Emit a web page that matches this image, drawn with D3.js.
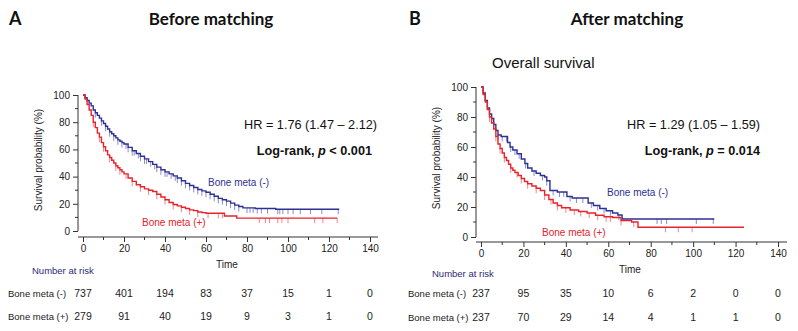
<!DOCTYPE html>
<html>
<head>
<meta charset="utf-8">
<script src="https://cdn.jsdelivr.net/npm/d3@7"></script>
<style>
  body { margin: 0; background: #fff; }
  svg { display: block; font-family: "Liberation Sans", Arial, sans-serif; }
</style>
</head>
<body>
<svg id="chart" width="798" height="331"></svg>
<script>
// time axis and risk table columns
var timeTicks = [0, 20, 40, 60, 80, 100, 120, 140];
var survTicks = [0, 20, 40, 60, 80, 100];

// Panel A - before matching  [time, survival %]
var aNeg = [[0,100],[1,98],[2,96],[3,94],[4,92],[5,89],[6,87],[7,85],[8,83],[9,81],[10,79],[11,77],[12,75],[13,73],
  [14,71.5],[15,70],[16,68.5],[17,67],[18,66],[19,65],[20,64],[22,61.5],[24,59],[26,57],[28,55],[30,53],[32,51],
  [34,49],[36,47],[38,45],[40,43.5],[42,42],[44,40.5],[46,39],[48,37],[50,35],[52,33.5],[54,32],[56,30.5],[58,29.5],
  [60,28.5],[62,27],[64,25.5],[66,24],[68,23],[70,22],[72,20.5],[74,19],[76,18],[78,17],[84,16.5],[94,16]];
var aNegEnd = 125;
var aNegCens = [6,9,11,13,15,17,19,21,22,24,25,27,28,30,31,33,35,36,38,40,41,43,45,46,48,50,52,54,56,58,60,62,64,
  66,68,70,72,74,76,80,81.5,83,85,87,90,95,96,97.5,100,102.5,106,111,116.5,124.5];
var aPos = [[0,100],[1,97],[2,93],[3,89],[4,85],[5,80],[6,76],[7,72],[8,69],[9,65],[10,62],[11,59],[12,56],[13,54],
  [14,52],[15,50],[16,48],[17,46.5],[18,45],[19,43.5],[20,42],[22,39],[24,36.5],[26,34],[28,32.5],[30,31],[32,30],
  [34,29],[36,27],[38,25],[40,23],[42,21],[44,19.5],[46,18.5],[48,17.5],[50,16.5],[52,15.5],[54,15],[56,14],[58,13.5],
  [60,13],[69,11],[75,9.5]];
var aPosEnd = 124;
var aPosCens = [5,8,10,13,16,18,21,24,28,32,36,40,44,48,52,56,61,66,68,86,89,91,95,97,100,113,117,124];

// Panel B - after matching
var bNeg = [[0,100],[1,96],[2,91],[3,86],[4,82],[5,79],[6,75],[7,71],[8,68],[9.5,67],[12.5,63],[13.7,60],[15,58],
  [17,55.5],[19,52],[20.7,49],[22,46],[24,44],[26,42.5],[28,41],[30,40],[31,37.5],[32.5,31],[36,30],[40.5,27],[43,26],
  [50.5,22.7],[53,21],[56,19],[59,17.5],[62,16],[64.5,14.7],[66.5,12]];
var bNegEnd = 110;
var bNegCens = [5,8,10,12,14,16,18,21,25,29,31,34,37,39,42,45,48,52,55,58,61,65,83,85,87.5,101.5,109.5];
var bPos = [[0,100],[1,95],[2,90],[3,85],[4,80],[5,76],[6,72],[7,67],[8,62],[9,59],[10,56],[11,53],[12,51],
  [13,48.5],[14,46],[15,44.5],[16,43],[17.5,41],[19,39],[20.5,37],[22,35.5],[24,34],[26,32.5],[28,31],[30,28],
  [32,25],[34,22.7],[36,21],[38,19.5],[42,18],[46,17],[50,16],[54,14.5],[58,13.5],[62,13],[66,11],[71,10],[74,6.5]];
var bPosEnd = 124;
var bPosCens = [4,7,9,11,14,17,19,22,26,30,33,36,40,44,47,51,55,59,61,66,72,87,93,99.5];

var negRisk = { A: [737, 401, 194, 83, 37, 15, 1, 0], B: [237, 95, 35, 10, 6, 2, 0, 0] };
var posRisk = { A: [279, 91, 40, 19, 9, 3, 1, 0], B: [237, 70, 29, 14, 4, 1, 1, 0] };

var blue = "#2e3192", red = "#e8232a";
var svg = d3.select("#chart");

function survAt(data, t) {
  var s = data[0][1];
  data.forEach(function (d) { if (d[0] <= t) s = d[1]; });
  return s;
}

function panel(opt) {
  var g = svg.append("g");
  var x = d3.scaleLinear().domain([0, 140]).range(opt.xr);
  var y = d3.scaleLinear().domain([0, 100]).range(opt.yr);

  // y axis
  var yAxis = d3.axisLeft(y).tickValues(survTicks).tickSize(5).tickPadding(3);
  var ya = g.append("g").attr("transform", "translate(" + opt.yAxisX + ",0)").call(yAxis);
  ya.selectAll(".tick").filter(function (d) { return false; });
  ya.append("g").selectAll("line").data(d3.range(10, 100, 20)).join("line")
    .attr("x1", -3).attr("x2", 0).attr("y1", function (d) { return y(d); }).attr("y2", function (d) { return y(d); })
    .attr("stroke", "#333");

  // x axis
  var xAxis = d3.axisBottom(x).tickValues(timeTicks).tickSize(5).tickPadding(3);
  var xa = g.append("g").attr("transform", "translate(0," + opt.xAxisY + ")").call(xAxis);
  xa.select(".domain").attr("d", "M" + opt.yAxisX + ",0H" + opt.xEnd);
  xa.append("g").selectAll("line").data(d3.range(10, 140, 10).filter(function (d) { return d % 20; })).join("line")
    .attr("x1", function (d) { return x(d); }).attr("x2", function (d) { return x(d); })
    .attr("y1", 0).attr("y2", 3).attr("stroke", "#333");
  ya.select(".domain").attr("d", "M0," + y(0) + "V" + y(100));
  [ya, xa].forEach(function (a) {
    a.selectAll("text").attr("font-size", 10).attr("fill", "#222").attr("font-family", "Liberation Sans, Arial");
    a.selectAll("path, line").attr("stroke", "#333");
  });

  g.append("text").attr("transform", "translate(" + opt.yLabX + "," + opt.yLabY + ") rotate(-90)")
    .attr("text-anchor", "middle").attr("font-size", 10).attr("fill", "#222").text("Survival probability (%)");
  g.append("text").attr("x", opt.timeX).attr("y", opt.timeY).attr("text-anchor", "middle")
    .attr("font-size", 10).attr("fill", "#222").text("Time");

  var line = d3.line().x(function (d) { return x(d[0]); }).y(function (d) { return y(d[1]); }).curve(d3.curveStepAfter);
  opt.series.forEach(function (s) {
    var pts = s.data.concat([[s.end, s.data[s.data.length - 1][1]]]);
    g.selectAll(null).data(s.cens).join("line")
      .attr("x1", function (t) { return x(t); }).attr("x2", function (t) { return x(t); })
      .attr("y1", function (t) { return y(survAt(s.data, t)); })
      .attr("y2", function (t) { return y(survAt(s.data, t)) + 5; })
      .attr("stroke", s.color).attr("stroke-opacity", 0.55).attr("stroke-width", 1);
    g.append("path").datum(pts).attr("d", line).attr("fill", "none")
      .attr("stroke", s.color).attr("stroke-width", 1.4);
    g.append("text").attr("x", s.lx).attr("y", s.ly).attr("font-size", 10).attr("fill", s.color).text(s.label);
  });

  // HR + log-rank
  g.append("text").attr("x", opt.statX).attr("y", opt.hrY).attr("text-anchor", "end")
    .attr("font-size", 12.7).attr("fill", "#111").text(opt.hr);
  var lr = g.append("text").attr("x", opt.statX - opt.lrShift).attr("y", opt.hrY + 26).attr("text-anchor", "end")
    .attr("font-size", 12.7).attr("font-weight", "bold").attr("fill", "#111");
  lr.append("tspan").text("Log-rank, ");
  lr.append("tspan").attr("font-style", "italic").text("p");
  lr.append("tspan").text(" " + opt.p);

  // titles
  g.append("text").attr("x", opt.letterX).attr("y", 25).attr("font-family", "Lato, sans-serif")
    .attr("font-weight", "bold").attr("font-size", 18).attr("fill", "#111").text(opt.letter);
  g.append("text").attr("x", opt.titleX).attr("y", 25).attr("text-anchor", "middle").attr("font-family", "Lato, sans-serif")
    .attr("font-weight", "bold").attr("font-size", 17).attr("fill", "#111").text(opt.title);

  // number at risk
  g.append("text").attr("x", opt.narX).attr("y", opt.narY).attr("font-size", 9.5).attr("fill", "#2a2a7a").text("Number at risk");
  [["Bone meta (-)", negRisk[opt.letter], opt.rowY[0]], ["Bone meta (+)", posRisk[opt.letter], opt.rowY[1]]].forEach(function (r) {
    g.append("text").attr("x", opt.rowLabX).attr("y", r[2]).attr("font-size", 9.5).attr("fill", "#222").text(r[0]);
    g.selectAll(null).data(r[1]).join("text")
      .attr("x", function (d, i) { return x(timeTicks[i]); }).attr("y", r[2])
      .attr("text-anchor", "middle").attr("font-size", 10.5).attr("fill", "#222").text(function (d) { return d; });
  });
  return g;
}

panel({
  letter: "A", title: "Before matching", letterX: 9, titleX: 211,
  xr: [83, 370], yr: [231, 95], yAxisX: 78, xAxisY: 237, xEnd: 378,
  yLabX: 42, yLabY: 160, timeX: 227, timeY: 268,
  statX: 377, hrY: 129, lrShift: 5, hr: "HR = 1.76 (1.47 \u2013 2.12)", p: "< 0.001",
  narX: 32, narY: 274, rowLabX: 8, rowY: [297, 320],
  series: [
    { data: aNeg, end: aNegEnd, cens: aNegCens, color: blue, label: "Bone meta (-)", lx: 208, ly: 186 },
    { data: aPos, end: aPosEnd, cens: aPosCens, color: red, label: "Bone meta (+)", lx: 142, ly: 226 }
  ]
});

panel({
  letter: "B", title: "After matching", letterX: 409, titleX: 627,
  xr: [481, 778], yr: [237, 87], yAxisX: 476, xAxisY: 242, xEnd: 787,
  yLabX: 440, yLabY: 158, timeX: 630, timeY: 273,
  statX: 760, hrY: 129, lrShift: 0, hr: "HR = 1.29 (1.05 \u2013 1.59)", p: "= 0.014",
  narX: 432, narY: 277, rowLabX: 408, rowY: [297, 321],
  series: [
    { data: bNeg, end: bNegEnd, cens: bNegCens, color: blue, label: "Bone meta (-)", lx: 607, ly: 196 },
    { data: bPos, end: bPosEnd, cens: bPosCens, color: red, label: "Bone meta (+)", lx: 542, ly: 236 }
  ]
});

svg.append("text").attr("x", 492).attr("y", 68).attr("font-size", 15).attr("fill", "#111").text("Overall survival");
</script>
</body>
</html>
